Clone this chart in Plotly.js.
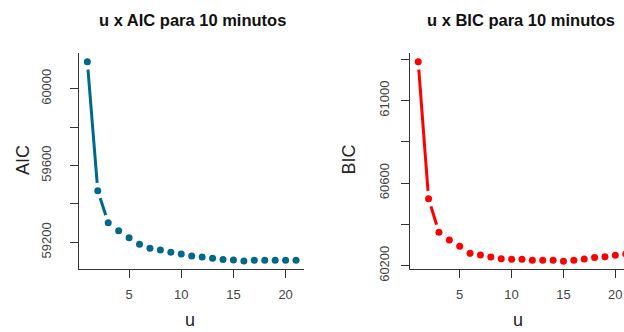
<!DOCTYPE html>
<html>
<head>
<meta charset="utf-8">
<script src="https://cdn.plot.ly/plotly-3.0.1.min.js"></script>
<style>
html, body { margin: 0; padding: 0; overflow: hidden; background: #fff; }
#chart { width: 640px; height: 332px; }
</style>
</head>
<body>
<div id="chart"></div>
<script>
// Data
const u = [1,2,3,4,5,6,7,8,9,10,11,12,13,14,15,16,17,18,19,20,21];
const aic = [60141,59469,59302,59260,59224,59190,59169,59160,59148,59139,59129,59123,59117,59111,59108,59103,59106,59106,59106,59106,59106];
const bic = [61188,60524,60362,60324,60294,60260,60252,60242,60234,60231,60231,60226,60226,60226,60221,60226,60232,60240,60243,60250,60257];
const xTicks = [5,10,15,20];
const aicTicks = [59200,59400,59600,59800,60000];
const aicTickText = ['59200','','59600','','60000'];
const bicTicks = [60200,60400,60600,60800,61000,61200];
const bicTickText = ['60200','','60600','','61000',''];
const titles = ['u x AIC para 10 minutos','u x BIC para 10 minutos'];
const yNames = ['AIC','BIC'];
const xName = 'u';

const W = 640, H = 332;
const FONT = 'Liberation Sans, Arial, Helvetica, sans-serif';
const tealC = '#00688B';
const redC = '#FF0000';

function series(y, color, xa, ya) {
  return [
    {x: u, y: y, type: 'scatter', mode: 'lines', xaxis: xa, yaxis: ya,
     line: {color: color, width: 3}, hoverinfo: 'skip'},
    {x: u, y: y, type: 'scatter', mode: 'markers', xaxis: xa, yaxis: ya,
     marker: {color: '#ffffff', size: 16}, hoverinfo: 'skip'},
    {x: u, y: y, type: 'scatter', mode: 'markers', xaxis: xa, yaxis: ya,
     marker: {color: color, size: 7}}
  ];
}

const data = [].concat(series(aic, tealC, 'x', 'y'), series(bic, redC, 'x2', 'y2'));

const ydom = [63/H, 279/H];
const axBase = {
  showgrid: false, zeroline: false, showline: true, linecolor: '#333', linewidth: 1,
  ticks: 'outside', ticklen: 8, tickcolor: '#333', tickwidth: 1,
  tickfont: {family: FONT, size: 13, color: '#444'}
};

const layout = {
  width: W, height: H,
  margin: {l: 0, r: 0, t: 0, b: 0},
  paper_bgcolor: '#fff', plot_bgcolor: '#fff',
  showlegend: false,
  xaxis: Object.assign({}, axBase, {domain: [79/W, 304.4/W], range: [0.2, 21.8], tickvals: xTicks, anchor: 'y', ticklabelstandoff: 5}),
  yaxis: Object.assign({}, axBase, {domain: ydom, range: [59061, 60186], tickvals: aicTicks, ticktext: aicTickText, tickangle: -90, anchor: 'x', ticklabelstandoff: 14}),
  xaxis2: Object.assign({}, axBase, {domain: [409.9/W, 634/W], range: [0.2, 21.8], tickvals: xTicks, anchor: 'y2', ticklabelstandoff: 5}),
  yaxis2: Object.assign({}, axBase, {domain: ydom, range: [60184, 61230], tickvals: bicTicks, ticktext: bicTickText, tickangle: -90, anchor: 'x2', ticklabelstandoff: 7}),
  annotations: [
    {text: '<b>' + titles[0] + '</b>', xref: 'paper', yref: 'paper', x: 192/W, y: 1 - 20/H, xanchor: 'center', yanchor: 'middle', showarrow: false, font: {family: FONT, size: 16.5, color: '#111'}},
    {text: '<b>' + titles[1] + '</b>', xref: 'paper', yref: 'paper', x: 521/W, y: 1 - 20/H, xanchor: 'center', yanchor: 'middle', showarrow: false, font: {family: FONT, size: 16.5, color: '#111'}},
    {text: yNames[0], xref: 'paper', yref: 'paper', x: 23/W, y: 1 - 160/H, xanchor: 'center', yanchor: 'middle', textangle: -90, showarrow: false, font: {family: FONT, size: 18, color: '#222'}},
    {text: yNames[1], xref: 'paper', yref: 'paper', x: 348.5/W, y: 1 - 160/H, xanchor: 'center', yanchor: 'middle', textangle: -90, showarrow: false, font: {family: FONT, size: 18, color: '#222'}},
    {text: xName, xref: 'paper', yref: 'paper', x: 190/W, y: 0, xanchor: 'center', yanchor: 'bottom', showarrow: false, font: {family: FONT, size: 18, color: '#222'}},
    {text: xName, xref: 'paper', yref: 'paper', x: 518/W, y: 0, xanchor: 'center', yanchor: 'bottom', showarrow: false, font: {family: FONT, size: 18, color: '#222'}}
  ]
};

Plotly.newPlot('chart', data, layout, {displayModeBar: false, staticPlot: true});
</script>
</body>
</html>
